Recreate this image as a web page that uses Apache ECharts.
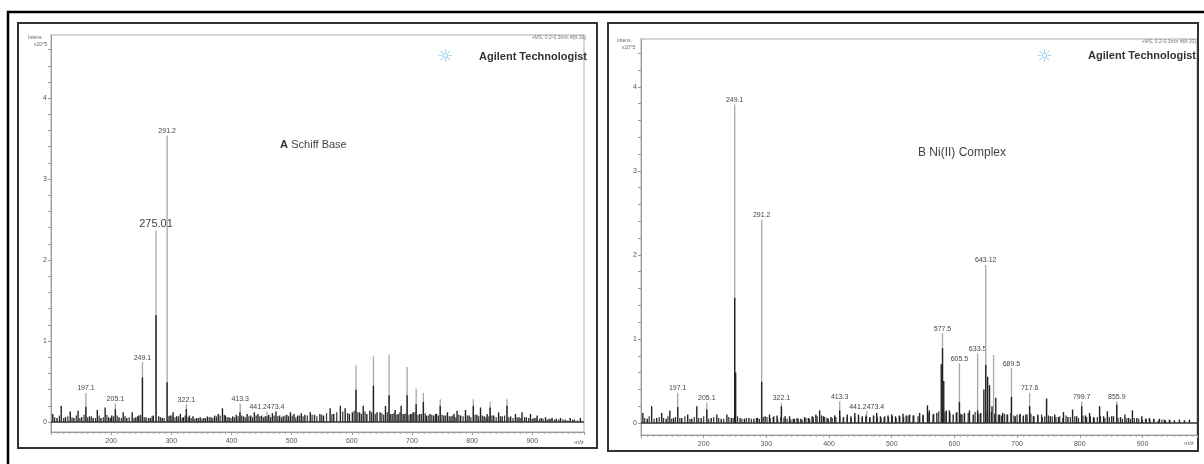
<!DOCTYPE html>
<html>
<head>
<meta charset="utf-8">
<script src="https://cdn.jsdelivr.net/npm/echarts@6/dist/echarts.min.js"></script>
<style>
html,body{margin:0;padding:0;background:#fff;}
#c{width:1204px;height:464px;}
</style>
</head>
<body>
<div id="c"></div>
<script>
// ---------- Panel A (Schiff Base) ----------
const leftMz = [103,110,117,124,132,138,145,151,158,164,170,177,183,190,196,201,207,213,220,226,235,241,246,252,258,265,270,274.6,279,285,293,298,303,309,315,320,325,330,336,342,348,354,360,366,372,378,385,390,396,402,408,414,420,426,432,438,444,450,456,462,468,474,480,486,492,498,504,510,516,522,531,538,547,553,564,570,581,589,596,601,607,613,619,625,630,636,642,647,656,662,667,672,677,682,687,692,698,702,707,713,719,724,730,736,741,747,753,759,765,770,775,781,789,795,802,808,814,820,825,830,836,844,850,858,864,872,878,883,890,897,903,908,915,922,928,933,940,947,955,963,970,980];
const leftInt = [0.10,0.05,0.20,0.06,0.13,0.05,0.14,0.06,0.19,0.07,0.05,0.15,0.05,0.18,0.06,0.08,0.16,0.06,0.12,0.05,0.12,0.06,0.08,0.55,0.06,0.05,0.08,1.32,0.07,0.05,0.49,0.08,0.12,0.07,0.10,0.06,0.16,0.08,0.07,0.05,0.06,0.05,0.07,0.06,0.08,0.10,0.17,0.08,0.06,0.07,0.09,0.12,0.07,0.10,0.08,0.12,0.10,0.08,0.07,0.09,0.11,0.13,0.08,0.07,0.09,0.12,0.10,0.08,0.11,0.09,0.12,0.09,0.10,0.08,0.17,0.10,0.20,0.17,0.10,0.12,0.40,0.12,0.20,0.10,0.14,0.45,0.12,0.12,0.20,0.33,0.10,0.15,0.10,0.20,0.10,0.33,0.10,0.12,0.22,0.10,0.25,0.08,0.10,0.08,0.10,0.20,0.08,0.12,0.07,0.10,0.14,0.08,0.15,0.08,0.20,0.09,0.18,0.07,0.10,0.18,0.08,0.12,0.07,0.20,0.07,0.10,0.06,0.12,0.06,0.10,0.05,0.08,0.05,0.06,0.04,0.05,0.04,0.05,0.03,0.05,0.03,0.05];
const leftFineMz = [106,114,121,128,135,142,148,155,161,167,174,180,187,193,199,204,210,217,223,230,238,244,249,255,262,268,282,288,296,
  301,306,312,318,323,328,333,339,345,351,357,363,369,375,381,388,393,399,405,411,417,423,429,435,441,447,453,459,465,471,477,483,489,495,501,507,513,519,526,534,542,
  550,558,567,575,585,593,604,610,616,622,633,639,650,653,659,664,670,675,680,685,690,695,700,705,710,716,722,727,733,739,744,750,756,
  762,768,773,778,785,792,798,805,811,817,823,828,833,840,847,854,861,868,875,881,887,894,900,906,912,918,925,931,937,944,951,959,967,975];
const leftFineInt = [0.06,0.08,0.05,0.07,0.06,0.08,0.05,0.09,0.06,0.07,0.05,0.08,0.06,0.09,0.05,0.07,0.08,0.05,0.07,0.06,0.05,0.07,0.09,0.06,0.05,0.07,0.06,0.05,0.07,
  0.08,0.06,0.07,0.05,0.08,0.06,0.05,0.04,0.05,0.04,0.05,0.06,0.05,0.07,0.08,0.09,0.06,0.05,0.06,0.07,0.08,0.06,0.07,0.06,0.08,0.07,0.06,0.07,0.06,0.08,0.07,0.06,0.08,0.07,0.08,0.06,0.08,0.07,0.08,0.09,0.07,
  0.09,0.11,0.10,0.12,0.13,0.11,0.14,0.12,0.10,0.13,0.12,0.10,0.11,0.09,0.12,0.10,0.11,0.09,0.12,0.10,0.11,0.09,0.10,0.12,0.09,0.10,0.11,0.08,0.09,0.10,0.08,0.09,0.08,
  0.07,0.08,0.06,0.09,0.07,0.08,0.06,0.09,0.07,0.08,0.06,0.07,0.08,0.06,0.07,0.08,0.06,0.05,0.06,0.05,0.06,0.05,0.04,0.05,0.04,0.04,0.03,0.04,0.03,0.03,0.03,0.02,0.03,0.02];
const leftLabMz   = [158,207,252,293,325,414.5,459,607,636,662,692,707,719,747,802,830,858];
const leftLabInt  = [0.36,0.23,0.74,3.54,0.22,0.23,0.13,0.70,0.81,0.83,0.68,0.41,0.36,0.28,0.28,0.25,0.28];
const leftLabText = ['197.1','205.1','249.1','291.2','322.1','413.3','441.2473.4','','','','','','','','','',''];
const leftBigMz = [274.6];
const leftBigInt = [2.37];
const leftBigText = ['275.01'];

// ---------- Panel B (Ni(II) Complex) ----------
const rightMz = [103,110,117,125,133,140,146,152,158.5,165,174.5,181,189,196,205,212,221,228,237,244,249.5,251,258,265,272,280,286,292.5,298,305,311,317,324,330,337,343,349,355,361,367,373,379,385,391,397,403,409,417,423,429,435,441,447,453,459,465,471,476,482,488,494,500,506,512,518,523,528.5,535,544.5,550,557,560,566,572,579,581,583,587,592,598,603,608,612,616,624,630,637,642,647,650,653,656,660,666,672,677,684,691,697,704,710,714,720,726,733,740,747,753,760,766,774,781,788.5,795,803,809,815.6,822,831.6,838,844,851,859,865,872,878,884,891,899,905,911,918,927,935,943,951,959,967,975];
const rightInt = [0.12,0.05,0.20,0.06,0.12,0.05,0.15,0.06,0.19,0.06,0.10,0.05,0.20,0.06,0.16,0.06,0.10,0.05,0.10,0.06,1.49,0.60,0.06,0.05,0.06,0.05,0.06,0.49,0.08,0.10,0.07,0.09,0.20,0.08,0.08,0.05,0.06,0.05,0.07,0.06,0.08,0.10,0.15,0.08,0.06,0.07,0.09,0.15,0.07,0.10,0.08,0.12,0.10,0.08,0.09,0.07,0.09,0.12,0.08,0.07,0.09,0.10,0.08,0.09,0.11,0.09,0.10,0.09,0.12,0.09,0.21,0.15,0.10,0.12,0.70,0.89,0.50,0.15,0.15,0.10,0.12,0.25,0.10,0.12,0.15,0.10,0.15,0.12,0.40,0.69,0.55,0.45,0.20,0.30,0.10,0.12,0.10,0.31,0.08,0.10,0.08,0.10,0.20,0.08,0.10,0.07,0.29,0.08,0.10,0.07,0.13,0.07,0.16,0.08,0.20,0.09,0.12,0.07,0.20,0.08,0.14,0.08,0.22,0.07,0.10,0.06,0.15,0.06,0.08,0.05,0.06,0.05,0.05,0.04,0.04,0.03,0.04,0.03,0.04];
const rightFineMz = [106,113,121,129,136,143,149,155,162,170,178,185,192,200,208,216,224,232,240,247,254,261,268,276,284,289,295,
  301,306,312,318,323,328,333,339,345,351,357,363,369,375,381,388,393,399,405,411,417,423,429,435,441,447,453,459,465,471,477,483,489,495,501,507,513,519,526,534,542,
  550,558,567,575,585,593,604,610,616,622,633,639,650,653,659,664,670,675,680,685,690,695,700,705,710,716,722,727,733,739,744,750,756,
  762,768,773,778,785,792,798,805,811,817,823,828,833,840,847,854,861,868,875,881,887,894,900,906,912,918,925,931,937,944,951,959,967,975];
const rightFineInt = [0.06,0.08,0.05,0.07,0.06,0.08,0.05,0.07,0.06,0.08,0.05,0.07,0.06,0.08,0.05,0.07,0.06,0.05,0.07,0.06,0.08,0.05,0.06,0.05,0.06,0.05,0.07,
  0.07,0.06,0.08,0.05,0.07,0.06,0.05,0.04,0.05,0.05,0.04,0.06,0.05,0.07,0.08,0.09,0.07,0.05,0.06,0.07,0.08,0.06,0.07,0.06,0.08,0.07,0.06,0.07,0.06,0.08,0.07,0.06,0.08,0.07,0.08,0.06,0.08,0.07,0.09,0.09,0.08,
  0.10,0.12,0.11,0.14,0.13,0.12,0.13,0.11,0.10,0.12,0.13,0.11,0.15,0.12,0.13,0.11,0.10,0.09,0.11,0.10,0.12,0.09,0.10,0.11,0.09,0.10,0.11,0.08,0.09,0.10,0.08,0.09,0.08,
  0.07,0.08,0.06,0.09,0.07,0.08,0.06,0.09,0.07,0.08,0.06,0.07,0.08,0.06,0.07,0.08,0.06,0.05,0.06,0.05,0.06,0.05,0.04,0.05,0.04,0.04,0.03,0.04,0.03,0.03,0.03,0.02,0.03,0.02];
const rightLabMz   = [158.5,205,249.5,292.5,324,417,460,581,608,637,650,662.5,691,720,747,803,859];
const rightLabInt  = [0.36,0.24,3.79,2.42,0.24,0.26,0.14,1.07,0.71,0.83,1.88,0.81,0.65,0.36,0.29,0.26,0.26];
const rightLabText = ['197.1','205.1','249.1','291.2','322.1','413.3','441.2473.4','577.5','605.5','633.5','643.12','','689.5','717.6','','799.7','855.9'];

// ---------- axes ----------
const yLabelValues = [0,1,2,3,4];
const yTickValues = [0,0.2,0.4,0.6,0.8,1,1.2,1.4,1.6,1.8,2,2.2,2.4,2.6,2.8,3,3.2,3.4,3.6,3.8,4,4.2,4.4,4.6];
const xLabelValues = [200,300,400,500,600,700,800,900];

const chart = echarts.init(document.getElementById('c'), null, {renderer:'canvas'});
const FF = 'Liberation Sans, Arial, sans-serif';

function pairs(xs, ys){ return xs.map((x,i)=>[x, ys[i]]); }

function stickSeries(idx, xs, ys, color, width, texts, fontSize, baseline){
  const s = {
    type:'custom', xAxisIndex:idx, yAxisIndex:idx,
    data: pairs(xs, ys),
    silent:true, animation:false, clip:false,
    renderItem: function(params, api){
      const x = api.value(0), y = api.value(1);
      const top = api.coord([x, y]);
      const base = api.coord([x, 0]);
      const children = [{
        type:'line',
        shape:{x1:top[0], y1:top[1], x2:base[0], y2:base[1]},
        style:{stroke:color, lineWidth:width}
      }];
      const t = texts ? texts[params.dataIndex] : '';
      if (t) {
        children.push({
          type:'text', x: top[0], y: top[1]-1,
          style:{text:t, textAlign:'center', textVerticalAlign:'bottom',
                 fontSize:fontSize, fill:'#444', fontFamily:FF}
        });
      }
      return {type:'group', children:children};
    }
  };
  if (baseline) {
    s.markLine = {silent:true, symbol:'none', animation:false, label:{show:false},
      lineStyle:{color:'#333', width:1.5, type:'solid'}, data:[{yAxis:0}]};
  }
  return s;
}

function yAxisCfg(idx, min, max){
  return {
    type:'value', gridIndex:idx, min:min, max:max,
    axisLine:{show:true, lineStyle:{color:'#9a9a9a', width:1}},
    axisTick:{show:true, length:3, lineStyle:{color:'#9a9a9a'}, customValues:yTickValues},
    axisLabel:{show:true, fontSize:7, color:'#555', margin:4, customValues:yLabelValues, fontFamily:FF},
    splitLine:{show:false}
  };
}
function xAxisCfg(idx, min, max){
  return {
    type:'value', gridIndex:idx, min:min, max:max, interval:100,
    axisLine:{show:true, onZero:false, lineStyle:{color:'#9a9a9a', width:1}},
    axisTick:{show:true, length:3, lineStyle:{color:'#9a9a9a'}},
    minorTick:{show:true, splitNumber:10, length:2, lineStyle:{color:'#aaa'}},
    axisLabel:{show:true, fontSize:7, color:'#555', margin:6, customValues:xLabelValues, fontFamily:FF},
    splitLine:{show:false}
  };
}

const txt = (x,y,text,opt)=>Object.assign({type:'text', x:x, y:y, silent:true,
  style:Object.assign({text:text, fontFamily:FF, fontSize:6, fill:'#666'}, opt||{})});

chart.setOption({
  animation:false,
  backgroundColor:'#fff',
  grid:[
    {left:51, top:35, width:533, height:397, show:true, borderColor:'#c8c8c8', borderWidth:1.5, backgroundColor:'transparent'},
    {left:641, top:39, width:556, height:396, show:true, borderColor:'#c8c8c8', borderWidth:1.5, backgroundColor:'transparent'}
  ],
  xAxis:[xAxisCfg(0,100,986), xAxisCfg(1,100,987)],
  yAxis:[yAxisCfg(0,-0.123,4.78), yAxisCfg(1,-0.143,4.57)],
  series:[
    stickSeries(0, leftLabMz, leftLabInt, '#a8a8a8', 1.3, leftLabText, 7, false),
    stickSeries(0, leftBigMz, leftBigInt, '#a8a8a8', 1.3, leftBigText, 11, false),
    stickSeries(0, leftFineMz, leftFineInt, '#333', 1.2, null, 0, false),
    stickSeries(0, leftMz, leftInt, '#222', 1.4, null, 0, true),
    stickSeries(1, rightLabMz, rightLabInt, '#a8a8a8', 1.3, rightLabText, 7, false),
    stickSeries(1, rightFineMz, rightFineInt, '#333', 1.2, null, 0, false),
    stickSeries(1, rightMz, rightInt, '#222', 1.4, null, 0, true)
  ],
  graphic:[
    {type:'rect', silent:true, shape:{x:8, y:12, width:1210, height:470}, style:{fill:'none', stroke:'#000', lineWidth:2.5}},
    {type:'rect', silent:true, shape:{x:18, y:23, width:579, height:425}, style:{fill:'none', stroke:'#333', lineWidth:2}},
    {type:'rect', silent:true, shape:{x:608, y:23, width:590, height:428}, style:{fill:'none', stroke:'#333', lineWidth:2}},
    // Panel A header
    txt(586, 38, '+MS, 0.2-0.3min #(8-10)', {textAlign:'right', textVerticalAlign:'middle', fontSize:5, fill:'#777'}),
    txt(587, 57, 'Agilent Technologist', {textAlign:'right', textVerticalAlign:'middle', fontSize:11, fontWeight:'bold', fill:'#333'}),
    txt(445, 57, '☼', {textAlign:'center', textVerticalAlign:'middle', fontSize:18, fill:'#8ccbec', fontFamily:'DejaVu Sans'}),
    txt(28, 38, 'Intens.', {textAlign:'left', textVerticalAlign:'middle', fontSize:5, fill:'#666'}),
    txt(34, 45, 'x10^5', {textAlign:'left', textVerticalAlign:'middle', fontSize:5, fill:'#666'}),
    {type:'text', x:280, y:145, silent:true, style:{
      text:'{b|A} {n|Schiff Base}', textVerticalAlign:'middle',
      rich:{b:{fontWeight:'bold', fontSize:11, fill:'#333', fontFamily:FF}, n:{fontSize:11, fill:'#444', fontFamily:FF}}}},
    txt(579, 442, 'm/z', {textAlign:'center', textVerticalAlign:'middle', fontSize:6, fill:'#555'}),
    // Panel B header
    txt(1196, 42, '+MS, 0.2-0.3min #(8-10)', {textAlign:'right', textVerticalAlign:'middle', fontSize:5, fill:'#777'}),
    txt(1196, 56, 'Agilent Technologist', {textAlign:'right', textVerticalAlign:'middle', fontSize:11, fontWeight:'bold', fill:'#333'}),
    txt(1044, 57, '☼', {textAlign:'center', textVerticalAlign:'middle', fontSize:18, fill:'#8ccbec', fontFamily:'DejaVu Sans'}),
    txt(617, 41, 'Intens.', {textAlign:'left', textVerticalAlign:'middle', fontSize:5, fill:'#666'}),
    txt(622, 48, 'x10^5', {textAlign:'left', textVerticalAlign:'middle', fontSize:5, fill:'#666'}),
    txt(918, 153, 'B Ni(II) Complex', {textAlign:'left', textVerticalAlign:'middle', fontSize:12, fill:'#444'}),
    txt(1189, 443, 'm/z', {textAlign:'center', textVerticalAlign:'middle', fontSize:6, fill:'#555'})
  ]
});
</script>
</body>
</html>
